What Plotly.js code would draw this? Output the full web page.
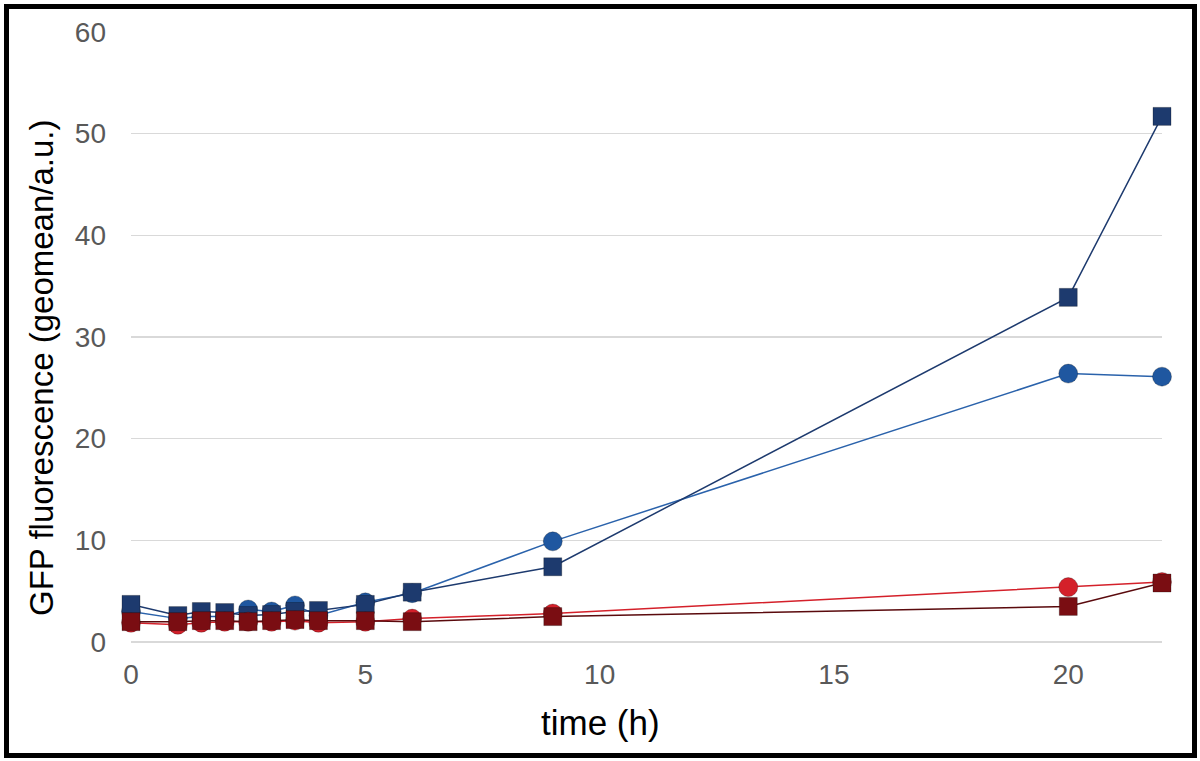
<!DOCTYPE html>
<html>
<head>
<meta charset="utf-8">
<script src="https://cdn.plot.ly/plotly-3.0.1.min.js"></script>
<style>
html,body{margin:0;padding:0;background:#fff;}
#wrap{position:relative;width:1200px;height:761px;}
#chart{width:1200px;height:761px;}
#frame{position:absolute;left:4px;top:4px;width:1193px;height:754px;box-sizing:border-box;border:5px solid #000;pointer-events:none;}
</style>
</head>
<body>
<div id="wrap"><div id="chart"></div><div id="frame"></div></div>
<script>
const time = [0, 1, 1.5, 2, 2.5, 3, 3.5, 4, 5, 6, 9, 20, 22];
const blueCircles = [3.0, 2.3, 2.5, 2.5, 3.2, 3.0, 3.6, 2.6, 3.9, 4.8, 9.9, 26.4, 26.1];
const blueSquares = [3.7, 2.6, 3.0, 2.9, 2.6, 2.7, 3.0, 3.1, 3.7, 4.9, 7.4, 33.9, 51.7];
const redCircles = [1.9, 1.7, 1.9, 2.0, 2.0, 2.0, 2.1, 1.9, 2.0, 2.3, 2.8, 5.4, 5.9];
const redSquares = [2.0, 2.0, 2.1, 2.1, 2.0, 2.1, 2.2, 2.1, 2.1, 2.0, 2.5, 3.5, 5.8];

const yTicks = [0, 10, 20, 30, 40, 50, 60];
const xTicks = [0, 5, 10, 15, 20];
const xTitle = 'time (h)';
const yTitle = 'GFP fluorescence (geomean/a.u.)';

function tr(y, color, sym, lineColor) {
  return {
    x: time, y: y, type: 'scatter', mode: 'lines+markers', cliponaxis: false,
    line: {color: lineColor, width: 1.5},
    marker: {symbol: sym, size: sym === 'square' ? 18 : 19, color: color,
             line: {color: 'rgba(0,0,0,0.25)', width: 1}},
    showlegend: false, hoverinfo: 'skip'
  };
}

const data = [
  tr(blueCircles, '#1f57a0', 'circle', '#2a62ab'),
  tr(blueSquares, '#1d3a6e', 'square', '#1d3a6e'),
  tr(redCircles, '#d4202a', 'circle', '#d4202a'),
  tr(redSquares, '#7a0d12', 'square', '#5a0a0d')
];

const layout = {
  width: 1200, height: 761,
  margin: {l: 131, r: 38, t: 32, b: 119},
  paper_bgcolor: '#fff', plot_bgcolor: '#fff',
  font: {family: 'Liberation Sans, Arial, sans-serif'},
  xaxis: {
    range: [0, 22], tickvals: xTicks, ticktext: xTicks.map(String),
    showgrid: false, zeroline: false, showline: false,
    ticks: '', ticklabelstandoff: 13,
    tickfont: {size: 28, color: '#595959'}
  },
  yaxis: {
    range: [0, 60], tickvals: yTicks, ticktext: yTicks.map(String),
    showgrid: true, gridcolor: '#d9d9d9', gridwidth: 1.5,
    zeroline: true, zerolinecolor: '#d9d9d9', zerolinewidth: 1.5,
    showline: false, ticks: '', ticklabelstandoff: 24,
    tickfont: {size: 28, color: '#595959'}
  },
  annotations: [
    {text: xTitle, xref: 'paper', yref: 'paper', x: (600 - 131) / 1031, y: (642 - 723) / 610,
     xanchor: 'center', yanchor: 'middle', showarrow: false, font: {size: 35, color: '#000'}},
    {text: yTitle, xref: 'paper', yref: 'paper', x: (41 - 131) / 1031, y: (642 - 368) / 610,
     xanchor: 'center', yanchor: 'middle', textangle: -90, showarrow: false, font: {size: 33, color: '#000'}}
  ]
};

Plotly.newPlot('chart', data, layout, {displayModeBar: false, staticPlot: true});
</script>
</body>
</html>
